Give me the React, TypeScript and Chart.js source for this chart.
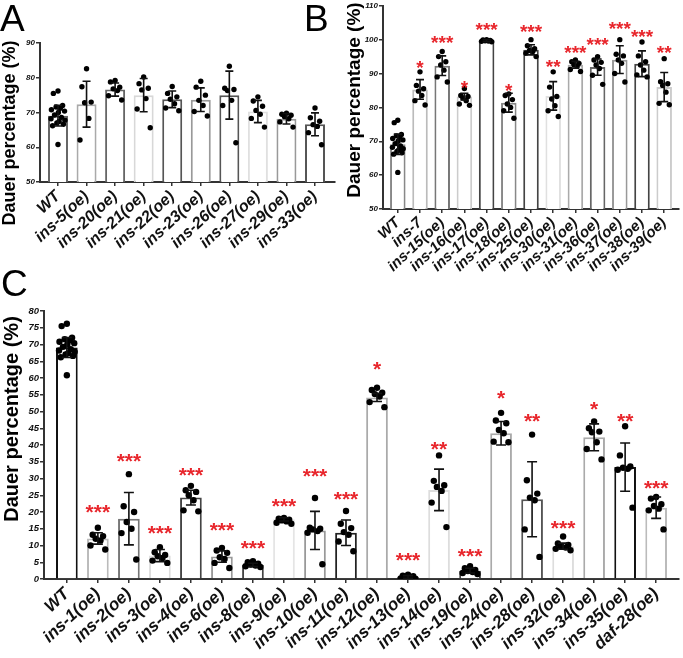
import React, { useEffect, useRef } from 'react';
import { Chart, registerables } from 'chart.js';
Chart.register(...registerables);

const FONT = 'Arial, "Liberation Sans", Helvetica, sans-serif';
const TITLE = 'Dauer percentage (%)';

// ---------- Panel A ----------
const catsA = ['WT', 'ins-5(oe)', 'ins-20(oe)', 'ins-21(oe)', 'ins-22(oe)', 'ins-23(oe)', 'ins-26(oe)', 'ins-27(oe)', 'ins-29(oe)', 'ins-33(oe)'];
const meanA = [69.1, 72.4, 76.6, 75.0, 73.8, 73.7, 75.0, 70.3, 68.2, 66.6];
const sdA = [3.0, 6.6, 1.9, 4.8, 2.4, 3.4, 6.9, 3.2, 1.5, 3.3];
const wtPoints = [76.2, 75.5, 72, 71.6, 71.2, 70.8, 70.4, 70, 69.3, 68.6, 68.2, 67.8, 67.4, 67, 66.6, 66.2, 60.8];
const ptsA = [
  wtPoints,
  [82.6, 77.4, 73, 72.8, 68.3, 62.1],
  [79.2, 78.8, 77.3, 76.8, 76.3, 74.8, 73.6],
  [80.2, 78.3, 77, 76.5, 74, 71, 65.6],
  [77.5, 75.5, 74.5, 73.8, 72.5, 71.3, 70.5],
  [79, 77.3, 75, 73.5, 72, 70.3, 69],
  [83.3, 77, 76.6, 76.3, 73.5, 72, 61.3],
  [74.5, 73.3, 71.8, 70.6, 69.5, 68.3, 65.8],
  [69.8, 69.5, 69.2, 68.8, 68.2, 67.3, 65.8],
  [71.3, 68.5, 67.5, 66.5, 66, 64.2, 60.7],
];
const starsA = ['', '', '', '', '', '', '', '', '', ''];
const starYA = [0, 0, 0, 0, 0, 0, 0, 0, 0, 0];
const colorsA = ['#666', '#aaa', '#666', '#d8d8d8', '#555', '#999', '#555', '#e0e0e0', '#999', '#555'];

// ---------- Panel B ----------
const catsB = ['WT', 'ins-7', 'ins-15(oe)', 'ins-16(oe)', 'ins-17(oe)', 'ins-18(oe)', 'ins-25(oe)', 'ins-30(oe)', 'ins-31(oe)', 'ins-36(oe)', 'ins-37(oe)', 'ins-38(oe)', 'ins-39(oe)'];
const meanB = [69.1, 85.3, 92.3, 83.2, 99.7, 81.4, 97.0, 83.4, 92.6, 91.9, 94.1, 92.9, 86.0];
const sdB = [3.0, 2.9, 2.9, 1.0, 0.3, 2.8, 1.5, 4.2, 1.0, 2.4, 4.1, 3.8, 4.3];
const ptsB = [
  wtPoints,
  [90.5, 86.5, 85.5, 84.8, 83.5, 82, 80.7],
  [96.5, 95, 93.5, 92.5, 91, 89, 87.5],
  [85.6, 83.5, 83.2, 82.8, 82, 81, 80.6],
  [100, 99.9, 99.8, 99.7, 99.6, 99.5, 99.4],
  [84, 83.5, 82.3, 81, 80, 79, 76.8],
  [100, 98.2, 97.3, 96.8, 96.5, 96, 95],
  [90.5, 86, 83.2, 82.5, 80.5, 79, 77.3],
  [94, 93.5, 93, 92.6, 92.2, 91.2, 90.6],
  [95, 94, 93.3, 92.5, 91.5, 89.5, 86.8],
  [100, 95.7, 95.2, 94, 93, 90, 87.5],
  [99.3, 95.2, 93.5, 92.5, 91, 89.6, 89],
  [94.4, 87.6, 87, 86.5, 84.5, 81.2, 80.8],
];
const starsB = ['', '*', '***', '*', '***', '*', '***', '**', '***', '***', '***', '***', '**'];
const starYB = [0, 93.1, 100.5, 87.2, 104.3, 86.2, 103.8, 93.3, 97.6, 100.0, 104.5, 102.3, 97.6];
const colorsB = ['#888', '#bbb', '#777', '#ccc', '#444', '#888', '#444', '#e0e0e0', '#aaa', '#666', '#999', '#444', '#ccc'];

// ---------- Panel C ----------
const catsC = ['WT', 'ins-1(oe)', 'ins-2(oe)', 'ins-3(oe)', 'ins-4(oe)', 'ins-6(oe)', 'ins-8(oe)', 'ins-9(oe)', 'ins-10(oe)', 'ins-11(oe)', 'ins-12(oe)', 'ins-13(oe)', 'ins-14(oe)', 'ins-19(oe)', 'ins-24(oe)', 'ins-28(oe)', 'ins-32(oe)', 'ins-34(oe)', 'ins-35(oe)', 'daf-28(oe)'];
const meanC = [69.1, 12.1, 18.0, 7.0, 24.3, 6.7, 4.2, 17.8, 14.5, 13.8, 54.2, 0.6, 26.6, 2.5, 43.5, 23.8, 9.8, 42.3, 33.4, 21.3];
const sdC = [3.0, 1.7, 7.8, 1.8, 2.2, 1.7, 0.5, 0.5, 5.7, 3.8, 1.2, 0.4, 6.2, 0.7, 3.5, 11.2, 0.9, 4.0, 7.2, 3.2];
const ptsC = [
  wtPoints,
  [15.3, 13.2, 12.8, 12, 11.5, 10, 8.8],
  [31.3, 21.7, 20, 17, 15, 13.7, 5.8],
  [9.5, 8, 7.2, 6.8, 6.3, 5.5, 4.8],
  [27.8, 26.5, 26, 25, 23.5, 20.5, 20.2],
  [9.3, 8.5, 7.8, 6.5, 6, 4.8, 3.3],
  [5.3, 5, 4.6, 4.3, 4, 3.8, 3.6],
  [18.2, 18, 17.7, 17.5, 17.2, 16.8, 16.5],
  [24.2, 15.3, 15, 14.8, 14.3, 13.8, 4.4],
  [20.3, 16.5, 15.2, 14, 13.2, 11.2, 8.3],
  [57.1, 56.4, 55.6, 55.2, 54.5, 52.8, 51.3],
  [1.3, 1, 0.8, 0.5, 0.3, 0.2, 0.1],
  [36.9, 29.3, 28, 27.5, 26.3, 22.8, 15.5],
  [3.8, 3.2, 2.7, 2.4, 2.1, 1.8, 1.5],
  [49.6, 47.3, 46.5, 44.5, 43.5, 41, 40.8],
  [43.1, 29.5, 25.5, 24.3, 23.5, 14.8, 6.6],
  [12.7, 10.6, 10.2, 9.8, 9.4, 9, 8.6],
  [47, 45, 44, 43.8, 40.8, 38.8, 35.7],
  [45.6, 36.9, 33.6, 33.2, 32.9, 32.6, 21.3],
  [24.5, 24, 22.3, 21.8, 21, 20.5, 14.8],
];
const starsC = ['', '***', '***', '***', '***', '***', '***', '***', '***', '***', '*', '***', '**', '***', '*', '**', '***', '*', '**', '***'];
const starYC = [0, 21.5, 36.7, 15.3, 32.7, 16.3, 10.8, 23.3, 32.4, 25.3, 64.2, 7.3, 40.4, 8.5, 55.7, 48.8, 16.8, 52.2, 48.8, 28.8];
const colorsC = ['#111', '#bbb', '#777', '#ddd', '#444', '#999', '#444', '#e5e5e5', '#999', '#222', '#aaa', '#999', '#ddd', '#444', '#aaa', '#555', '#ddd', '#aaa', '#111', '#bbb'];

const JIT = [0, -0.6, 0.6, -0.25, 0.3, -0.85, 0.85, 0.05, -0.45, 0.45, -0.9, 0.9, 0.15, -0.15, 0.7, -0.7, 0.0];

type Panel = {
  cats: string[]; means: number[]; sds: number[]; pts: number[][]; stars: string[]; starY: number[]; colors: string[];
  yMin: number; yMax: number; yStep: number; xMin: number; xMax: number;
  yW: number; xH: number; padTop: number; padRight: number;
  tickSize: number; labelSize: number; starSize: number; titleSize: number; titleX: number; titleY: number;
  r: number; spread: number; cap: number;
};

const panelA: Panel = {
  cats: catsA, means: meanA, sds: sdA, pts: ptsA, stars: starsA, starY: starYA, colors: colorsA,
  yMin: 50, yMax: 90, yStep: 10, xMin: -0.63, xMax: 9.7,
  yW: 40, xH: 103, padTop: 43, padRight: 5,
  tickSize: 8, labelSize: 16, starSize: 19, titleSize: 18, titleX: 10, titleY: 133,
  r: 2.7, spread: 0.27, cap: 4,
};
const panelB: Panel = {
  cats: catsB, means: meanB, sds: sdB, pts: ptsB, stars: starsB, starY: starYB, colors: colorsB,
  yMin: 50, yMax: 110, yStep: 10, xMin: -0.667, xMax: 12.667,
  yW: 53, xH: 76, padTop: 5, padRight: 0,
  tickSize: 8, labelSize: 15, starSize: 19, titleSize: 19, titleX: 25, titleY: 100,
  r: 2.7, spread: 0.27, cap: 4,
};
const panelC: Panel = {
  cats: catsC, means: meanC, sds: sdC, pts: ptsC, stars: starsC, starY: starYC, colors: colorsC,
  yMin: 0, yMax: 80, yStep: 5, xMin: -0.737, xMax: 19.737,
  yW: 44, xH: 79, padTop: 26, padRight: 0,
  tickSize: 9.5, labelSize: 17, starSize: 21, titleSize: 20, titleX: 12, titleY: 134,
  r: 3.2, spread: 0.28, cap: 5,
};

function overlay(p: Panel) {
  return {
    id: 'overlay',
    afterDatasetsDraw(chart: any) {
      const { ctx } = chart;
      const x = chart.scales.x;
      const y = chart.scales.y;
      ctx.save();
      ctx.strokeStyle = '#111';
      ctx.lineWidth = 1.6;
      p.means.forEach((m, i) => {
        const px = x.getPixelForValue(i);
        const top = y.getPixelForValue(m + p.sds[i]);
        const bot = y.getPixelForValue(m - p.sds[i]);
        ctx.beginPath();
        ctx.moveTo(px, top); ctx.lineTo(px, bot);
        ctx.moveTo(px - p.cap, top); ctx.lineTo(px + p.cap, top);
        ctx.moveTo(px - p.cap, bot); ctx.lineTo(px + p.cap, bot);
        ctx.stroke();
      });
      ctx.fillStyle = '#e8262c';
      ctx.font = `bold ${p.starSize}px ${FONT}`;
      ctx.textAlign = 'center';
      ctx.textBaseline = 'alphabetic';
      p.stars.forEach((s, i) => {
        if (!s) return;
        const px = x.getPixelForValue(i);
        const py = y.getPixelForValue(p.starY[i]);
        ctx.fillText(s, px, py + 0.58 * p.starSize);
      });
      ctx.fillStyle = '#000';
      ctx.font = `bold ${p.titleSize}px ${FONT}`;
      ctx.textBaseline = 'middle';
      ctx.translate(p.titleX, p.titleY);
      ctx.rotate(-Math.PI / 2);
      ctx.fillText(TITLE, 0, 0);
      ctx.restore();
    },
  };
}

function makeConfig(p: Panel): any {
  const scatter: { x: number; y: number }[] = [];
  p.pts.forEach((arr, i) => arr.forEach((v, j) => scatter.push({ x: i + JIT[j % JIT.length] * p.spread, y: v })));
  return {
    type: 'bar',
    data: {
      datasets: [
        {
          type: 'scatter', data: scatter, order: 1,
          pointRadius: p.r, pointBackgroundColor: '#000', pointBorderWidth: 0, pointBorderColor: '#000',
        },
        {
          type: 'bar', data: p.means.map((m, i) => ({ x: i, y: m })), order: 2,
          backgroundColor: '#fff', borderColor: p.colors, borderWidth: 2,
          barPercentage: 0.7, categoryPercentage: 1,
        },
      ],
    },
    options: {
      responsive: false, animation: false, devicePixelRatio: 1,
      layout: { padding: { left: 0, top: p.padTop, right: p.padRight, bottom: 0 } },
      plugins: { legend: { display: false }, tooltip: { enabled: false } },
      scales: {
        x: {
          type: 'linear', min: p.xMin, max: p.xMax, offset: false,
          afterBuildTicks: (s: any) => { s.ticks = p.cats.map((_, i) => ({ value: i })); },
          afterFit: (s: any) => { s.height = p.xH; s.paddingLeft = 0; s.paddingRight = 0; },
          ticks: {
            autoSkip: false, minRotation: 43, maxRotation: 43, padding: 1, color: '#111',
            callback: (_v: any, idx: number) => p.cats[idx],
            font: { family: FONT, size: p.labelSize, style: 'italic', weight: 'bold' },
          },
          grid: { display: true, offset: false, drawOnChartArea: false, drawTicks: true, tickLength: 4, color: '#333', lineWidth: 1.5 },
          border: { display: true, color: '#333', width: 2 },
        },
        y: {
          min: p.yMin, max: p.yMax,
          afterFit: (s: any) => { s.width = p.yW; },
          ticks: {
            stepSize: p.yStep, padding: 1, color: '#111',
            font: { family: FONT, size: p.tickSize, style: 'italic', weight: 'bold' },
          },
          grid: { display: true, drawOnChartArea: false, drawTicks: true, tickLength: 4, color: '#333', lineWidth: 1.5 },
          border: { display: true, color: '#333', width: 2 },
        },
      },
    },
    plugins: [overlay(p)],
  };
}

function ChartPanel({ p, left, top, width, height }: { p: Panel; left: number; top: number; width: number; height: number }) {
  const ref = useRef<HTMLCanvasElement>(null);
  useEffect(() => {
    const chart = new Chart(ref.current as HTMLCanvasElement, makeConfig(p));
    return () => chart.destroy();
  }, [p]);
  return (
    <canvas ref={ref} width={width} height={height}
      style={{ position: 'absolute', left, top, width, height, display: 'block' }} />
  );
}

const letterStyle: React.CSSProperties = {
  position: 'absolute', fontFamily: FONT, fontSize: 37, lineHeight: 1, color: '#000', margin: 0,
};

export default function App() {
  return (
    <div style={{ position: 'absolute', left: 0, top: 0, width: 683, height: 658, background: '#fff', overflow: 'hidden' }}>
      <ChartPanel p={panelA} left={0} top={0} width={340} height={285} />
      <ChartPanel p={panelB} left={330} top={0} width={353} height={285} />
      <ChartPanel p={panelC} left={0} top={285} width={683} height={373} />
      <div style={{ ...letterStyle, left: 0, top: 0 }}>A</div>
      <div style={{ ...letterStyle, left: 304, top: 0 }}>B</div>
      <div style={{ ...letterStyle, left: 1, top: 265 }}>C</div>
    </div>
  );
}
